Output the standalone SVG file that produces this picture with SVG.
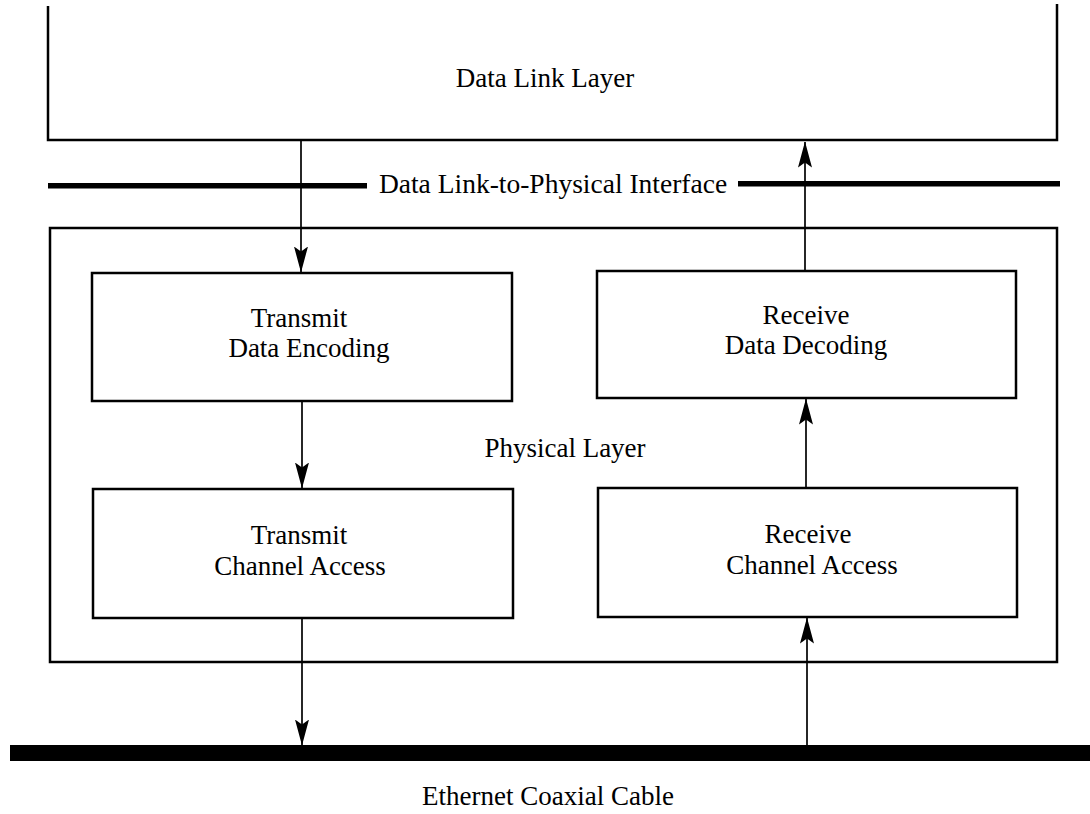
<svg xmlns="http://www.w3.org/2000/svg" width="1090" height="814" viewBox="0 0 1090 814">
<style>
.box{fill:none;stroke:#000;stroke-width:2.5}
.t{font-family:"Liberation Serif","Times New Roman",serif;font-size:27px;fill:#000;text-anchor:middle}
.c{stroke:#000;stroke-width:1.7;fill:none}
</style>
<defs>
<marker id="ah" viewBox="0 0 26 14" refX="25.5" refY="7" markerWidth="26" markerHeight="14" markerUnits="userSpaceOnUse" orient="auto">
<path d="M0,0 L26,7 L0,14 L5,7 Z" fill="#000"/>
</marker>
</defs>
<rect width="1090" height="814" fill="#fff"/>
<g id="data-link-layer">
<path class="box" d="M48,6 V140 H1057 V4"/>
<text class="t" x="545" y="87">Data Link Layer</text>
</g>
<g id="interface">
<rect x="48" y="183" width="319" height="5.5" fill="#000"/>
<rect x="738" y="181" width="322" height="5.5" fill="#000"/>
<text class="t" x="553" y="193" style="font-size:27.5px">Data Link-to-Physical Interface</text>
</g>
<g id="physical-layer">
<rect class="box" x="50" y="228" width="1007" height="434"/>
<text class="t" x="565" y="457">Physical Layer</text>
</g>
<g id="transmit-encoding">
<rect class="box" x="92" y="273" width="420" height="128"/>
<text class="t" x="299" y="327">Transmit</text>
<text class="t" x="309" y="357">Data Encoding</text>
</g>
<g id="receive-decoding">
<rect class="box" x="597" y="271" width="419" height="127"/>
<text class="t" x="806" y="324">Receive</text>
<text class="t" x="806" y="354">Data Decoding</text>
</g>
<g id="transmit-access">
<rect class="box" x="93" y="489" width="420" height="129"/>
<text class="t" x="299" y="544">Transmit</text>
<text class="t" x="300" y="575">Channel Access</text>
</g>
<g id="receive-access">
<rect class="box" x="598" y="488" width="419" height="129"/>
<text class="t" x="808" y="543">Receive</text>
<text class="t" x="812" y="574">Channel Access</text>
</g>
<g id="cable">
<rect x="10" y="745" width="1080" height="16" fill="#000"/>
<text class="t" x="548" y="805">Ethernet Coaxial Cable</text>
</g>
<g id="connectors">
<line class="c" x1="301" y1="141" x2="301" y2="272" marker-end="url(#ah)"/>
<line class="c" x1="805" y1="270" x2="805" y2="142" marker-end="url(#ah)"/>
<line class="c" x1="302" y1="402" x2="302" y2="488" marker-end="url(#ah)"/>
<line class="c" x1="806" y1="487" x2="806" y2="399" marker-end="url(#ah)"/>
<line class="c" x1="302" y1="619" x2="302" y2="745" marker-end="url(#ah)"/>
<line class="c" x1="807" y1="745" x2="807" y2="618" marker-end="url(#ah)"/>
</g>
</svg>
